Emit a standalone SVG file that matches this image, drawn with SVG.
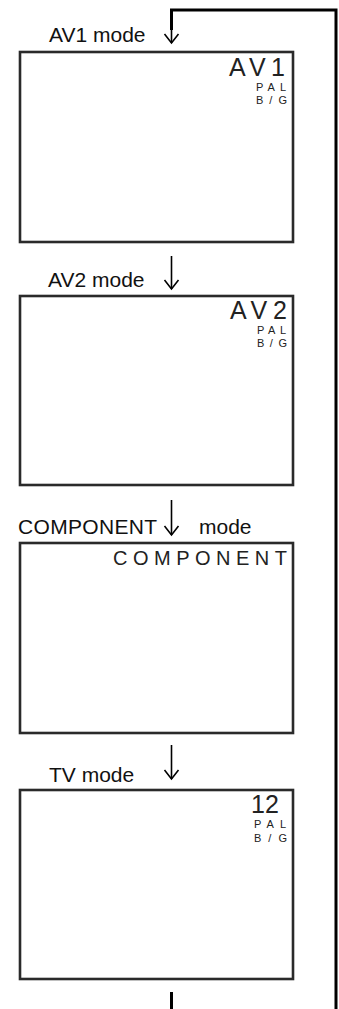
<svg xmlns="http://www.w3.org/2000/svg" width="339" height="1009" viewBox="0 0 339 1009">
<style>
.box{fill:#fff;stroke:#2a2a2a;stroke-width:2.6}
.lbl{font-family:"Liberation Sans",Arial,sans-serif;font-size:21px;fill:#111}
.big{font-family:"Liberation Sans",Arial,sans-serif;font-size:25px;fill:#222}
.cmp{font-family:"Liberation Sans",Arial,sans-serif;font-size:20px;fill:#222}
.sm{font-family:"Liberation Sans",Arial,sans-serif;font-size:11px;fill:#222}
.ln{fill:none;stroke:#000;stroke-width:1.6}
.thick{fill:none;stroke:#000;stroke-width:3}
</style>
<rect width="339" height="1009" fill="#fff"/>
<g id="connectors">
<path class="thick" d="M336 1009 V10 H171.5 V30"/>
<path class="ln" d="M171.5 28 V43"/>
<path class="ln" d="M164.5 34 L171.5 43 L178.5 34"/>
<path class="ln" d="M171.5 256 V289"/>
<path class="ln" d="M164.5 280 L171.5 289 L178.5 280"/>
<path class="ln" d="M171.5 500 V535"/>
<path class="ln" d="M164.5 526 L171.5 535 L178.5 526"/>
<path class="ln" d="M171.5 745 V779"/>
<path class="ln" d="M164.5 770 L171.5 779 L178.5 770"/>
<path class="thick" d="M171.5 992 V1009"/>
</g>
<g id="av1">
<text class="lbl" x="49" y="42">AV1 mode</text>
<rect class="box" x="20" y="52" width="273" height="190"/>
<text class="big" x="229" y="76" textLength="56" lengthAdjust="spacing">AV1</text>
<text class="sm" x="256" y="91" textLength="30" lengthAdjust="spacing">PAL</text>
<text class="sm" x="256" y="104" textLength="31" lengthAdjust="spacing">B / G</text>
</g>
<g id="av2">
<text class="lbl" x="48" y="287">AV2 mode</text>
<rect class="box" x="20" y="296" width="273" height="189"/>
<text class="big" x="230" y="319" textLength="57" lengthAdjust="spacing">AV2</text>
<text class="sm" x="257" y="334" textLength="29" lengthAdjust="spacing">PAL</text>
<text class="sm" x="257" y="347" textLength="30" lengthAdjust="spacing">B / G</text>
</g>
<g id="component">
<text class="lbl" x="18" y="534" textLength="139" lengthAdjust="spacing">COMPONENT</text>
<text class="lbl" x="199" y="534">mode</text>
<rect class="box" x="20" y="543" width="273" height="190"/>
<text class="cmp" x="113" y="565" textLength="174" lengthAdjust="spacing">COMPONENT</text>
</g>
<g id="tv">
<text class="lbl" x="49" y="782">TV mode</text>
<rect class="box" x="20" y="790" width="273" height="189"/>
<text class="big" x="251" y="813" font-size="26">12</text>
<text class="sm" x="254" y="828" textLength="32" lengthAdjust="spacing">PAL</text>
<text class="sm" x="254" y="842" textLength="33" lengthAdjust="spacing">B / G</text>
</g>
</svg>
